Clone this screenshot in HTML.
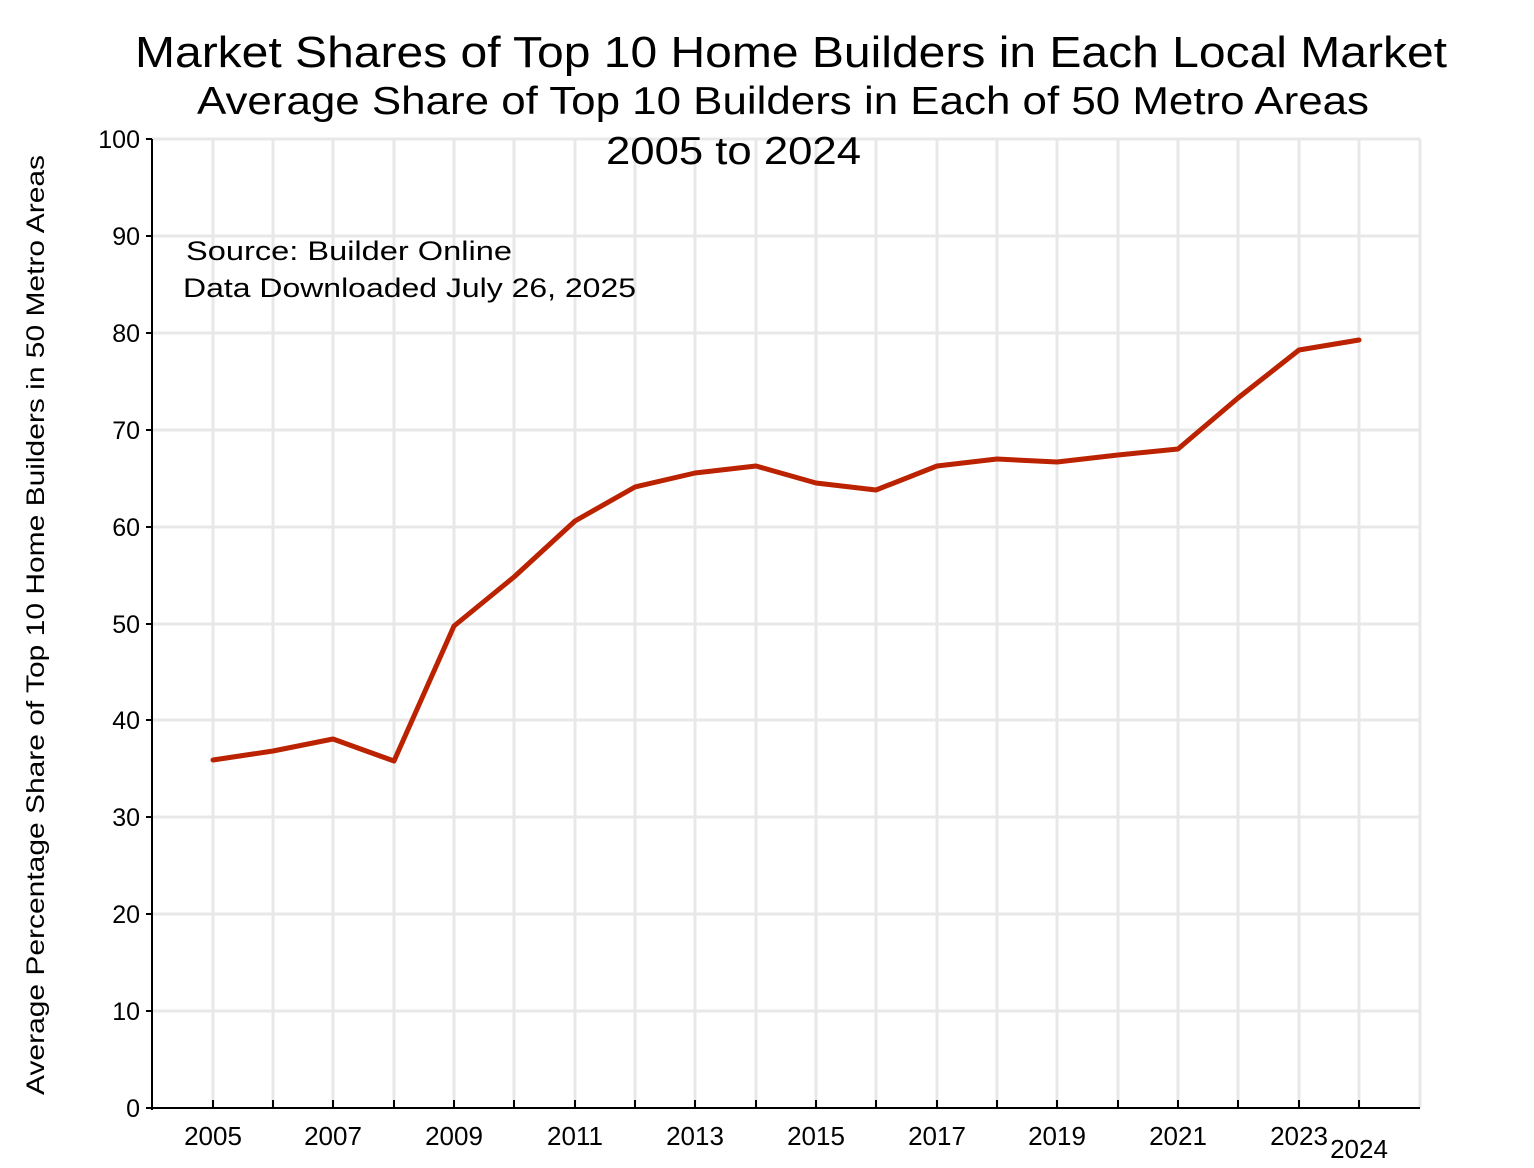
<!DOCTYPE html>
<html><head><meta charset="utf-8"><style>body{margin:0;background:#fff}svg{display:block}</style></head>
<body>
<svg width="1534" height="1168" xmlns="http://www.w3.org/2000/svg" font-family="Liberation Sans, Arial, sans-serif">
<rect width="1534" height="1168" fill="#fff"/>
<g stroke="#e8e8e8" stroke-width="3">
<line x1="152" x2="1420" y1="139" y2="139"/><line x1="152" x2="1420" y1="236" y2="236"/><line x1="152" x2="1420" y1="333" y2="333"/><line x1="152" x2="1420" y1="430" y2="430"/><line x1="152" x2="1420" y1="527" y2="527"/><line x1="152" x2="1420" y1="624" y2="624"/><line x1="152" x2="1420" y1="720" y2="720"/><line x1="152" x2="1420" y1="817" y2="817"/><line x1="152" x2="1420" y1="914" y2="914"/><line x1="152" x2="1420" y1="1011" y2="1011"/>
<line x1="213" x2="213" y1="139" y2="1108"/><line x1="273" x2="273" y1="139" y2="1108"/><line x1="333" x2="333" y1="139" y2="1108"/><line x1="394" x2="394" y1="139" y2="1108"/><line x1="454" x2="454" y1="139" y2="1108"/><line x1="514" x2="514" y1="139" y2="1108"/><line x1="575" x2="575" y1="139" y2="1108"/><line x1="635" x2="635" y1="139" y2="1108"/><line x1="695" x2="695" y1="139" y2="1108"/><line x1="756" x2="756" y1="139" y2="1108"/><line x1="816" x2="816" y1="139" y2="1108"/><line x1="876" x2="876" y1="139" y2="1108"/><line x1="937" x2="937" y1="139" y2="1108"/><line x1="997" x2="997" y1="139" y2="1108"/><line x1="1057" x2="1057" y1="139" y2="1108"/><line x1="1118" x2="1118" y1="139" y2="1108"/><line x1="1178" x2="1178" y1="139" y2="1108"/><line x1="1238" x2="1238" y1="139" y2="1108"/><line x1="1299" x2="1299" y1="139" y2="1108"/><line x1="1359" x2="1359" y1="139" y2="1108"/><line x1="1420" x2="1420" y1="139" y2="1108"/>
</g>
<g stroke="#000" stroke-width="2">
<line x1="152" x2="152" y1="139" y2="1110"/><line x1="146" x2="1420" y1="1108" y2="1108"/>
<line x1="146" x2="152" y1="139" y2="139"/><line x1="146" x2="152" y1="236" y2="236"/><line x1="146" x2="152" y1="333" y2="333"/><line x1="146" x2="152" y1="430" y2="430"/><line x1="146" x2="152" y1="527" y2="527"/><line x1="146" x2="152" y1="624" y2="624"/><line x1="146" x2="152" y1="720" y2="720"/><line x1="146" x2="152" y1="817" y2="817"/><line x1="146" x2="152" y1="914" y2="914"/><line x1="146" x2="152" y1="1011" y2="1011"/><line x1="146" x2="152" y1="1108" y2="1108"/>
<line x1="213" x2="213" y1="1100" y2="1108"/><line x1="273" x2="273" y1="1100" y2="1108"/><line x1="333" x2="333" y1="1100" y2="1108"/><line x1="394" x2="394" y1="1100" y2="1108"/><line x1="454" x2="454" y1="1100" y2="1108"/><line x1="514" x2="514" y1="1100" y2="1108"/><line x1="575" x2="575" y1="1100" y2="1108"/><line x1="635" x2="635" y1="1100" y2="1108"/><line x1="695" x2="695" y1="1100" y2="1108"/><line x1="756" x2="756" y1="1100" y2="1108"/><line x1="816" x2="816" y1="1100" y2="1108"/><line x1="876" x2="876" y1="1100" y2="1108"/><line x1="937" x2="937" y1="1100" y2="1108"/><line x1="997" x2="997" y1="1100" y2="1108"/><line x1="1057" x2="1057" y1="1100" y2="1108"/><line x1="1118" x2="1118" y1="1100" y2="1108"/><line x1="1178" x2="1178" y1="1100" y2="1108"/><line x1="1238" x2="1238" y1="1100" y2="1108"/><line x1="1299" x2="1299" y1="1100" y2="1108"/><line x1="1359" x2="1359" y1="1100" y2="1108"/>
</g>
<g font-size="25" text-anchor="end" fill="#000">
<text x="140" y="148">100</text><text x="140" y="245">90</text><text x="140" y="342">80</text><text x="140" y="439">70</text><text x="140" y="536">60</text><text x="140" y="633">50</text><text x="140" y="729">40</text><text x="140" y="826">30</text><text x="140" y="923">20</text><text x="140" y="1020">10</text><text x="140" y="1117">0</text>
</g>
<g font-size="26" text-anchor="middle" fill="#000">
<text x="213" y="1145">2005</text><text x="333" y="1145">2007</text><text x="454" y="1145">2009</text><text x="575" y="1145">2011</text><text x="695" y="1145">2013</text><text x="816" y="1145">2015</text><text x="937" y="1145">2017</text><text x="1057" y="1145">2019</text><text x="1178" y="1145">2021</text><text x="1299" y="1145">2023</text><text x="1359" y="1158">2024</text>
</g>
<text transform="translate(44,625) rotate(-90)" font-size="25" text-anchor="middle" textLength="940" lengthAdjust="spacingAndGlyphs">Average Percentage Share of Top 10 Home Builders in 50 Metro Areas</text>
<g fill="#000">
<text x="135" y="67" font-size="44" textLength="1312" lengthAdjust="spacingAndGlyphs">Market Shares of Top 10 Home Builders in Each Local Market</text>
<text x="197" y="114" font-size="39" textLength="1172" lengthAdjust="spacingAndGlyphs">Average Share of Top 10 Builders in Each of 50 Metro Areas</text>
<text x="606" y="164" font-size="39" textLength="255" lengthAdjust="spacingAndGlyphs">2005 to 2024</text>
<text x="186" y="260" font-size="27" textLength="326" lengthAdjust="spacingAndGlyphs">Source:  Builder Online</text>
<text x="183" y="297" font-size="27" textLength="453" lengthAdjust="spacingAndGlyphs">Data Downloaded July 26, 2025</text>
</g>
<polyline fill="none" stroke="#bb2200" stroke-width="5" stroke-linejoin="round" stroke-linecap="round" points="213,760 273,751 333,739 394,761 454,626 514,577 575,521 635,487 695,473 756,466 816,483 876,490 937,466 997,459 1057,462 1118,455 1178,449 1238,398 1299,350 1359,340"/>
</svg>
</body></html>
